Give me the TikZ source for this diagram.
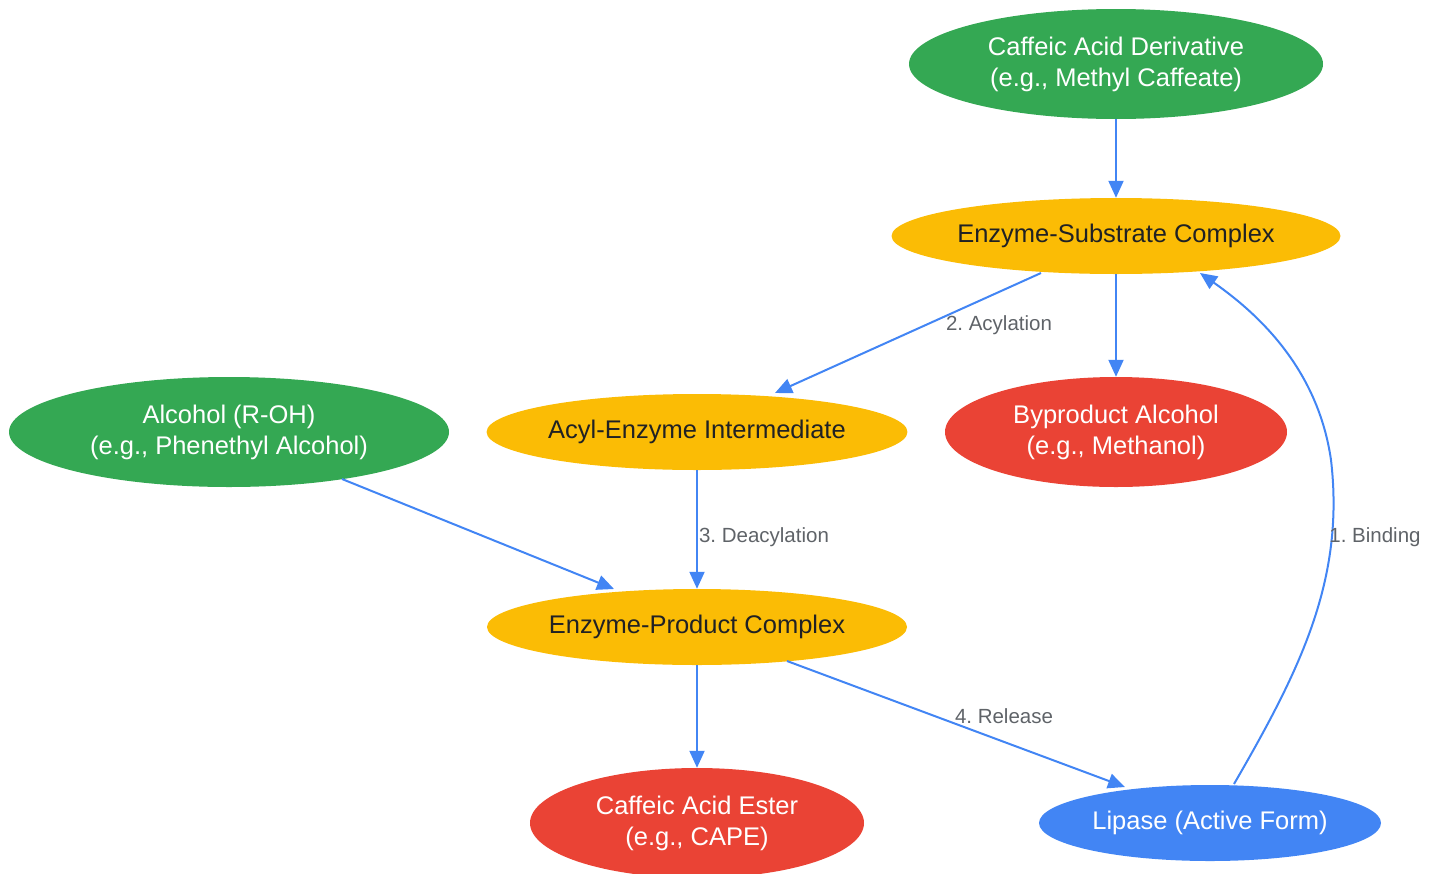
\documentclass[tikz,border=0pt]{standalone}
\usepackage{fontspec}
\setmainfont{Liberation Sans}
\usetikzlibrary{shapes.geometric,arrows.meta}
\definecolor{ggreen}{HTML}{34A853}
\definecolor{gyellow}{HTML}{FBBC05}
\definecolor{gred}{HTML}{EA4335}
\definecolor{gblue}{HTML}{4285F4}
\definecolor{gtext}{HTML}{202124}
\definecolor{glabel}{HTML}{5F6368}
\tikzset{
  nd/.style={ellipse, inner sep=0pt, align=center, font=\fontsize{25.5}{31}\selectfont},
  green/.style={nd, fill=ggreen, text=white},
  yellow/.style={nd, fill=gyellow, text=gtext},
  red/.style={nd, fill=gred, text=white},
  blue/.style={nd, fill=gblue, text=white},
  conn/.style={draw=gblue, line width=2pt, -{Triangle[length=17pt,width=15pt]}},
  lbl/.style={text=glabel, font=\fontsize{20.5}{24}\selectfont, inner sep=0pt}
}
\begin{document}
\frenchspacing
\begin{tikzpicture}[x=1pt,y=-1pt]
\useasboundingbox (0,0) rectangle (1437,873);
\node[green, minimum width=414pt, minimum height=110pt] (cad) at (1116,64) {Caffeic Acid Derivative\\(e.g., Methyl Caffeate)};
\node[yellow, minimum width=448pt, minimum height=76pt] (esc) at (1116,236) {Enzyme-Substrate Complex};
\node[yellow, minimum width=420pt, minimum height=76pt] (acyl) at (697,432) {Acyl-Enzyme Intermediate};
\node[red, minimum width=342pt, minimum height=110pt] (byp) at (1116,432) {Byproduct Alcohol\\(e.g., Methanol)};
\node[green, minimum width=440pt, minimum height=110pt] (alc) at (229,432) {Alcohol (R-OH)\\(e.g., Phenethyl Alcohol)};
\node[yellow, minimum width=420pt, minimum height=76pt] (epc) at (697,627) {Enzyme-Product Complex};
\node[red, minimum width=334pt, minimum height=110pt] (est) at (697,823) {Caffeic Acid Ester\\(e.g., CAPE)};
\node[blue, minimum width=342pt, minimum height=76pt] (lip) at (1210,823) {Lipase (Active Form)};

\coordinate (escA) at (1041,273);
\coordinate (escL) at (1200,273);
\coordinate (acylT) at (775,393);
\coordinate (lipT) at (1234,784);
\coordinate (lipL) at (1125,787);
\coordinate (epcR) at (787,661);
\coordinate (epcL) at (614,589);
\coordinate (alcR) at (342,479);

\draw[conn] (cad) -- (esc);
\draw[conn] (escA) -- (acylT);
\draw[conn] (esc) -- (byp);
\draw[conn] (alcR) -- (epcL);
\draw[conn] (acyl) -- (epc);
\draw[conn] (epc) -- (est);
\draw[conn] (epcR) -- (lipL);
\draw[conn] (lipT) .. controls (1300,670) and (1345,580) .. (1331,460) .. controls (1318,370) and (1260,315) .. (escL);

\node[lbl] (l2) at (999,325) {2. Acylation};
\node[lbl] (l3) at (764,537) {3. Deacylation};
\node[lbl] (l4) at (1004,716) {4. Release};
\node[lbl] (l1) at (1375,537) {1. Binding};
\end{tikzpicture}
\end{document}
